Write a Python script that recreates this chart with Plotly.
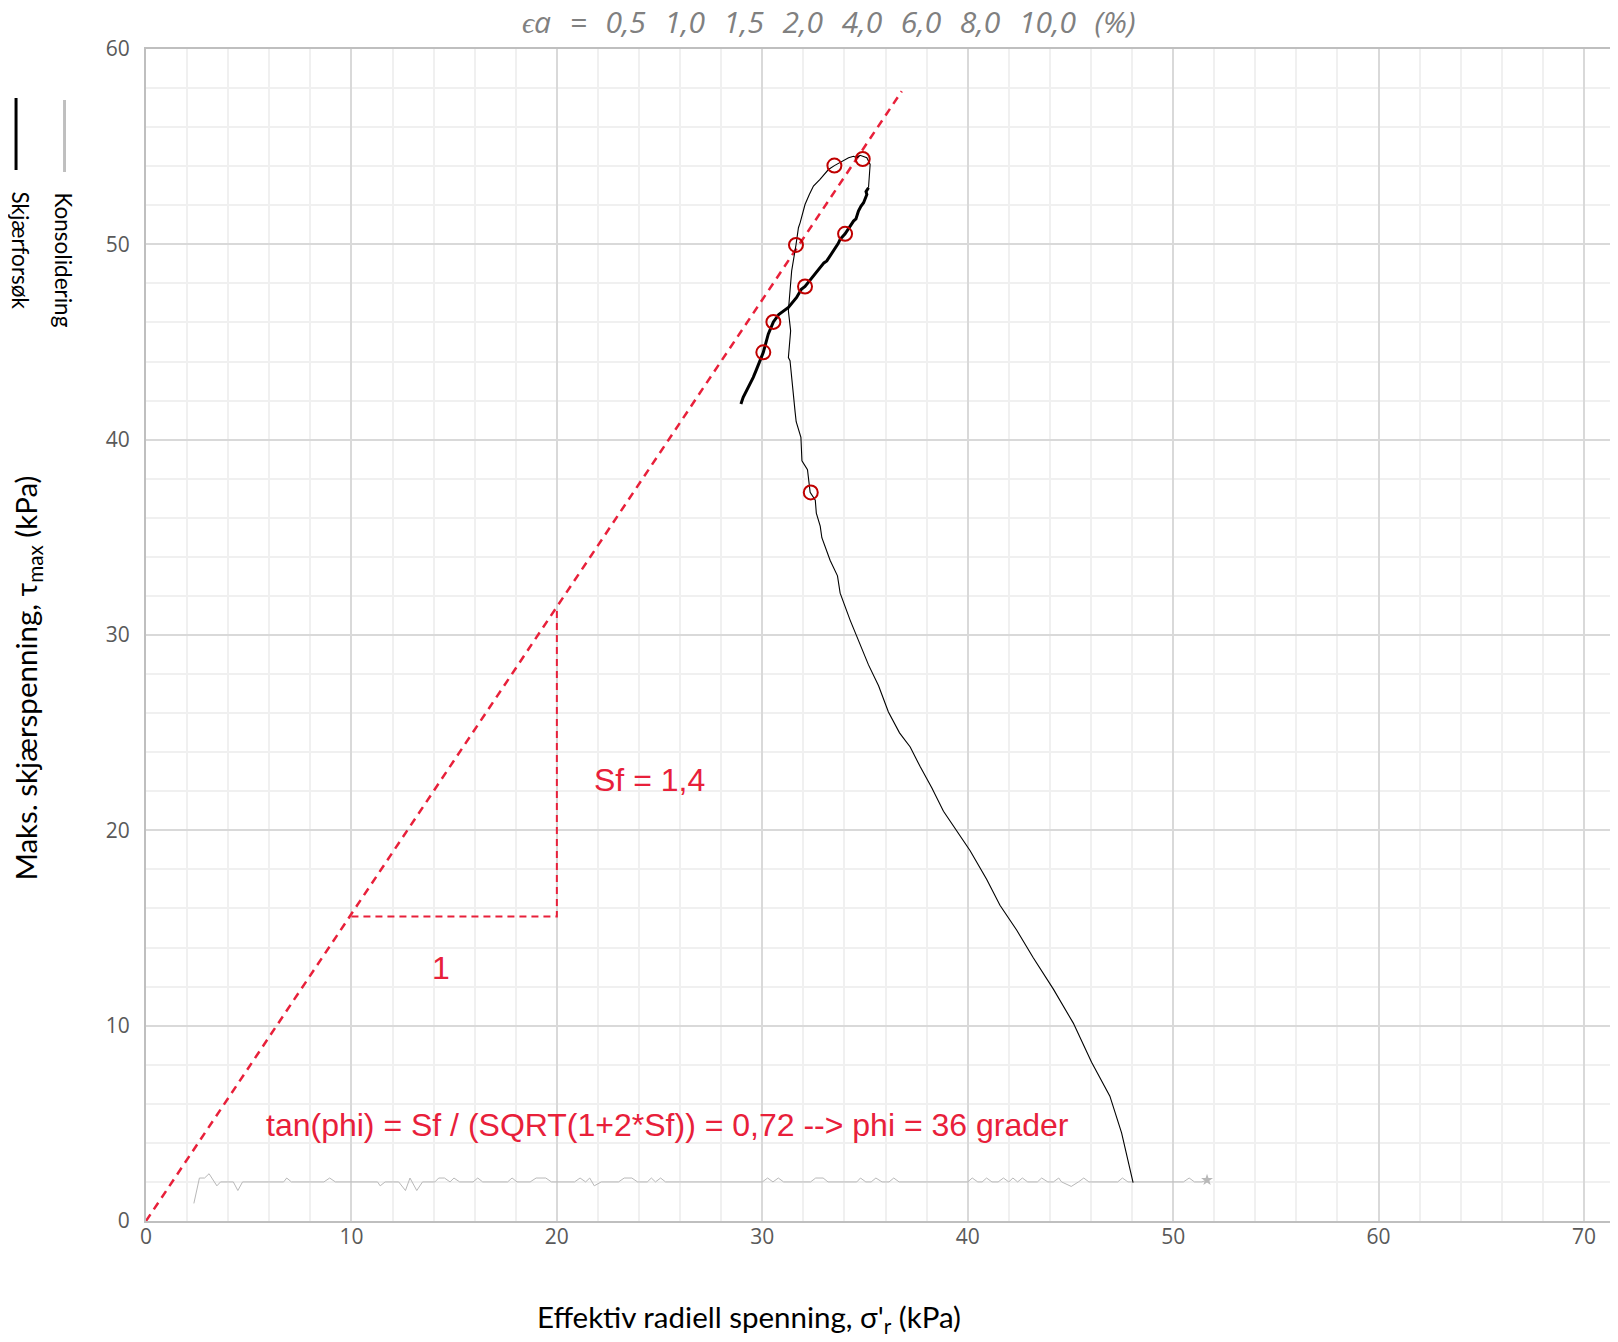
import plotly.graph_objects as go

# ---------------- data ----------------
# Shear test path (Skjærforsøk): from end of consolidation up to peak
shear_up_x = [48.05, 47.49, 46.92, 46.03, 45.14, 44.17, 43.19, 42.38, 41.57, 40.92,
              40.11, 39.47, 38.82, 38.25, 37.69, 37.20, 36.68, 36.14, 35.66, 35.17,
              34.76, 34.28, 33.79, 33.66, 33.30, 32.90, 32.82, 32.63, 32.58, 32.33,
              32.20, 31.93, 31.88, 31.65, 31.60, 31.54, 31.35, 31.27, 31.38, 31.27,
              31.38, 31.43, 31.64, 31.76, 31.84, 32.08, 32.29, 32.49, 32.81, 33.22,
              33.51, 33.87, 34.20, 34.44, 34.60, 34.76, 35.09, 35.25, 35.22, 35.17]
shear_up_y = [1.97, 4.51, 6.39, 8.13, 10.13, 11.87, 13.48, 14.90, 16.16, 17.50,
              18.97, 19.99, 20.98, 22.18, 23.25, 24.27, 24.99, 26.06, 27.40, 28.47,
              29.54, 30.75, 32.14, 33.03, 33.83, 34.98, 35.57, 36.24, 36.90, 37.30,
              38.46, 38.92, 40.12, 40.92, 41.40, 42.00, 44.04, 44.20, 45.57, 46.60,
              47.79, 48.64, 49.97, 50.85, 51.10, 52.04, 52.55, 52.98, 53.32, 53.83,
              54.03, 54.26, 54.43, 54.51, 54.43, 54.56, 54.43, 54.09, 53.57, 52.90]
# Post-peak part of the shear path (dense, noisy data)
shear_down_x = [35.17, 35.05, 35.09, 34.93, 34.80, 34.68, 34.56, 34.44, 34.03, 33.79,
                33.70, 33.46, 33.14, 33.00, 32.81, 32.49, 32.08, 31.90, 31.67, 31.27,
                30.94, 30.80, 30.54, 30.29, 30.05, 29.80, 29.70, 29.56, 29.32, 29.07,
                28.96]
shear_down_y = [52.90, 52.70, 52.55, 52.13, 51.95, 51.70, 51.30, 51.19, 50.54, 50.26,
                50.05, 49.66, 49.15, 49.05, 48.81, 48.38, 47.84, 47.70, 47.28, 46.77,
                46.51, 46.40, 46.03, 45.40, 44.47, 43.87, 43.55, 43.19, 42.68, 42.17,
                41.83]

# Consolidation path (Konsolidering)
kons_x = [2.33, 2.60, 2.85, 3.07, 3.45, 3.63, 4.25, 4.47, 4.70, 6.70, 6.85, 7.08,
          8.66, 8.94, 9.22, 11.27, 11.40, 11.64, 12.30, 12.63, 12.85, 13.18, 13.46,
          14.06, 14.25, 14.53, 14.80, 14.99, 15.27, 15.92, 16.15, 16.39, 17.60, 17.82,
          18.06, 18.70, 18.99, 19.46, 19.74, 20.86, 21.13, 21.40, 21.60, 21.82, 22.16,
          23.00, 23.28, 23.65, 23.93, 24.40, 24.60, 24.80, 25.05, 25.29,
          30.00, 30.26, 30.52, 30.78, 31.04, 32.35, 32.60, 32.96, 33.20, 34.60, 34.78,
          35.04, 35.30, 35.53, 35.83, 36.17, 36.40, 36.66, 40.00, 40.22, 40.49, 40.70,
          40.92, 41.18, 41.48, 41.74, 42.00, 42.20, 42.43, 42.66, 42.92, 43.39, 43.60,
          43.90, 44.17, 44.43, 44.57, 45.04, 45.39, 45.65, 45.90, 47.30, 47.53, 47.80,
          50.50, 50.78, 51.04, 51.40, 51.65]
kons_y = [0.90, 2.20, 2.20, 2.42, 1.80, 2.00, 2.00, 1.56, 2.00, 2.00, 2.20, 2.00,
          2.00, 2.20, 2.00, 2.00, 1.80, 2.00, 2.00, 1.56, 2.20, 1.56, 2.00,
          2.00, 2.20, 2.20, 2.00, 2.20, 2.00, 2.00, 2.20, 2.00, 2.00, 2.20,
          2.00, 2.00, 2.20, 2.20, 2.00, 2.00, 2.20, 2.00, 2.20, 1.80, 2.00,
          2.00, 2.20, 2.20, 2.00, 2.00, 2.20, 2.00, 2.20, 2.00,
          2.00, 2.20, 2.00, 2.20, 2.00, 2.00, 2.20, 2.20, 2.00, 2.00, 2.20,
          2.00, 2.00, 2.20, 2.00, 2.00, 2.20, 2.00, 2.00, 2.20, 2.00, 2.00,
          2.20, 2.00, 2.00, 2.20, 2.00, 2.20, 2.00, 2.20, 2.00, 2.00, 2.20,
          2.00, 2.00, 2.20, 2.00, 1.77, 2.00, 2.20, 2.00, 2.00, 2.20, 2.00,
          2.00, 2.20, 2.00, 2.00, 2.10]

# Strain markers (ϵa = 0.5 ... 10 %)
strain_x = [30.05, 30.54, 32.08, 34.03, 34.89, 33.51, 31.64, 32.36]
strain_y = [44.47, 46.03, 47.84, 50.54, 54.37, 54.03, 49.97, 37.30]

# Failure line and slope triangle
fail_x = [0.0, 36.79]
fail_y = [0.0, 57.84]
tri_x = [10.0, 20.0, 20.0]
tri_y = [15.59, 15.59, 31.27]

x_ticks = [0, 10, 20, 30, 40, 50, 60, 70]
y_ticks = [0, 10, 20, 30, 40, 50, 60]

title_parts = ["ϵa", "=", "0,5", "1,0", "1,5", "2,0", "4,0", "6,0", "8,0", "10,0", "(%)"]
sf_text = "Sf = 1,4"
one_text = "1"
phi_text = "tan(phi) = Sf / (SQRT(1+2*Sf)) = 0,72 --> phi = 36 grader"

# ---------------- figure ----------------
RED = "#e8203a"
fig = go.Figure()

fig.add_trace(go.Scatter(x=kons_x, y=kons_y, mode="lines",
                         line=dict(color="#b8b8b8", width=1), showlegend=False,
                         hoverinfo="skip"))
fig.add_trace(go.Scatter(x=[kons_x[-1]], y=[kons_y[-1]], mode="markers",
                         marker=dict(symbol="star", size=9, color="#b8b8b8"),
                         showlegend=False, hoverinfo="skip"))
fig.add_trace(go.Scatter(x=fail_x, y=fail_y, mode="lines",
                         line=dict(color=RED, width=2.5, dash="8px,6px"),
                         showlegend=False, hoverinfo="skip"))
fig.add_trace(go.Scatter(x=tri_x, y=tri_y, mode="lines",
                         line=dict(color=RED, width=2, dash="7px,5px"),
                         showlegend=False, hoverinfo="skip"))
fig.add_trace(go.Scatter(x=shear_up_x, y=shear_up_y, mode="lines",
                         line=dict(color="black", width=1.1), showlegend=False))
fig.add_trace(go.Scatter(x=shear_down_x, y=shear_down_y, mode="lines",
                         line=dict(color="black", width=3), showlegend=False))
fig.add_trace(go.Scatter(x=strain_x, y=strain_y, mode="markers",
                         marker=dict(symbol="circle-open", size=14, color="#c00000",
                                     line=dict(color="#c00000", width=2)),
                         showlegend=False))

# page has an 8px body margin: figure coords = page coords - 8
OFF = 8
L, T, R, B = 145.5, 49, 1614, 1221  # plot area in page pixels
W = R - L
H = B - T
FIG_W, FIG_H = 1610, 1334


def px(fx):
    return (fx - L) / W


def py(fy):
    return (B - fy) / H


GAP = "\u00a0\u00a0\u200a"
title_html = "<i>" + GAP.join(title_parts) + "</i>"

annotations = [
    dict(text=title_html, x=px(828), y=py(21),
         xref="paper", yref="paper",
         showarrow=False, font=dict(family="Open Sans", size=30, color="#808080"),
         xanchor="center", yanchor="middle"),
    dict(text="Maks. skjærspenning, τ<sub>max</sub> (kPa)", x=px(26), y=py(678),
         xref="paper", yref="paper", showarrow=False, textangle=-90,
         font=dict(family="Lato", size=29.5, color="black"), xanchor="center", yanchor="middle"),
    dict(text="Effektiv radiell spenning, σ'<sub>r</sub> (kPa)", x=px(749), y=py(1318),
         xref="paper", yref="paper", showarrow=False,
         font=dict(family="Lato", size=29.5, color="black"), xanchor="center", yanchor="middle"),
    dict(text="Skjærforsøk", x=px(20), y=py(250), xref="paper", yref="paper",
         showarrow=False, textangle=90, font=dict(family="Lato", size=22.5, color="black"),
         xanchor="center", yanchor="middle"),
    dict(text="Konsolidering", x=px(62), y=py(260), xref="paper", yref="paper",
         showarrow=False, textangle=90, font=dict(family="Lato", size=22.5, color="black"),
         xanchor="center", yanchor="middle"),
    dict(text=sf_text, x=21.7, y=22.6, xref="x", yref="y", showarrow=False,
         font=dict(family="Liberation Sans", size=32, color=RED), xanchor="left", yanchor="middle"),
    dict(text=one_text, x=14.38, y=12.95, xref="x", yref="y", showarrow=False,
         font=dict(family="Liberation Sans", size=32, color=RED), xanchor="center", yanchor="middle"),
    dict(text=phi_text, x=25.38, y=4.92, xref="x", yref="y", showarrow=False,
         font=dict(family="Liberation Sans", size=32, color=RED), xanchor="center", yanchor="middle"),
]

shapes = [
    dict(type="line", xref="paper", yref="paper", x0=px(15.5), x1=px(15.5), y0=py(98), y1=py(170),
         line=dict(color="black", width=3)),
    dict(type="line", xref="paper", yref="paper", x0=px(64), x1=px(64), y0=py(100), y1=py(172),
         line=dict(color="#bfbfbf", width=3)),
]

axis_common = dict(
    showline=True, mirror=True, linecolor="#bfbfbf", linewidth=2,
    showgrid=True, gridcolor="#d9d9d9", gridwidth=2,
    zeroline=False, ticks="", tickfont=dict(family="Open Sans", size=21, color="#595959"),
    minor=dict(showgrid=True, gridcolor="#f0f0f0", gridwidth=2, dtick=2),
)

fig.update_xaxes(range=[0, 71.46], tickvals=x_ticks, ticktext=[str(v) for v in x_ticks],
                 ticklabelstandoff=-4, **axis_common)
fig.update_yaxes(range=[0, 60], tickvals=y_ticks, ticktext=[str(v) for v in y_ticks],
                 ticklabelstandoff=10, **axis_common)

fig.update_layout(
    width=FIG_W, height=FIG_H,
    margin=dict(l=L - OFF, r=FIG_W - (R - OFF), t=T - OFF, b=FIG_H - (B - OFF), autoexpand=False),
    plot_bgcolor="white", paper_bgcolor="white",
    annotations=annotations, shapes=shapes,
    showlegend=False,
)

fig.write_html("out.html")
